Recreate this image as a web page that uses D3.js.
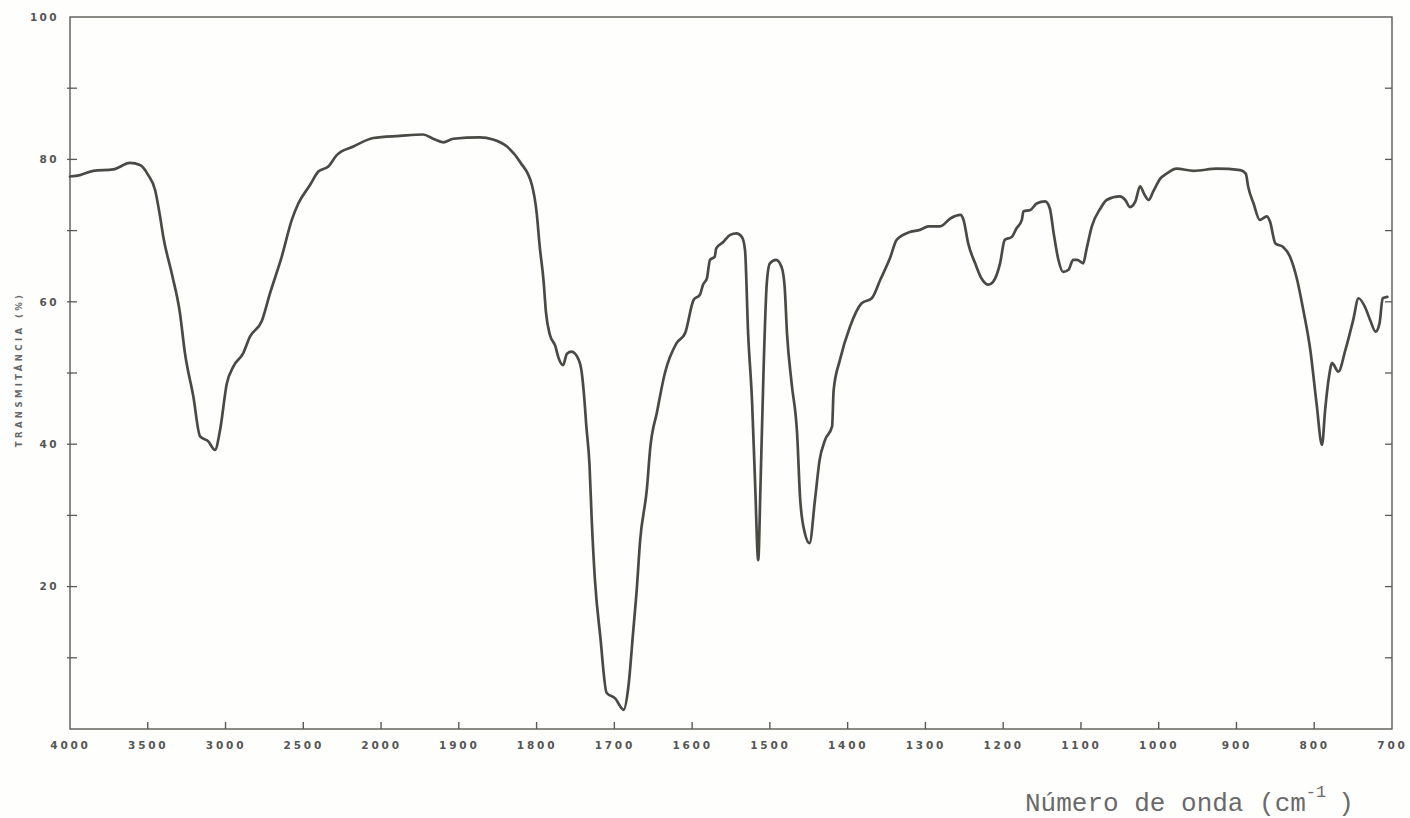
<!DOCTYPE html>
<html>
<head>
<meta charset="utf-8">
<script src="https://cdn.jsdelivr.net/npm/d3@7"></script>
<style>
  html, body { margin: 0; padding: 0; background: #fefefc; }
  svg { display: block; }
</style>
</head>
<body>
<div id="chart"></div>
<script>
// IR spectrum: wavenumber (cm-1) and transmittance (%)
var wavenumber = [4000,3936,3850,3722,3614,3550,3497,3453,3421,3400,3346,3293,3261,3207,3164,3111,3068,3035,2992,2950,
  2886,2843,2767,2714,2639,2574,2532,2457,2403,2339,2285,2178,2050,1976,1946,1933,1920,1907,1873,1856,
  1838,1821,1806,1800,1796,1791,1788,1783,1776,1772,1766,1761,1755,1746,1742,1739,1736,1732,1729,1725,
  1718,1710,1699,1688,1682,1676,1671,1667,1658,1654,1645,1635,1620,1609,1598,1590,1586,1581,1577,1571,
  1569,1560,1551,1543,1536,1532,1528,1523,1519,1515,1512,1508,1504,1500,1492,1485,1481,1478,1472,1465,
  1461,1455,1449,1442,1436,1429,1420,1418,1410,1397,1382,1369,1358,1345,1337,1320,1307,1296,1281,1268,
  1255,1251,1245,1236,1228,1219,1213,1204,1198,1189,1183,1176,1174,1165,1157,1146,1140,1135,1129,1123,
  1116,1110,1105,1097,1093,1086,1075,1067,1050,1043,1037,1030,1024,1018,1013,1007,998,990,977,955,
  925,895,888,885,878,870,861,857,850,840,831,822,814,805,797,790,786,781,777,769,
  760,750,743,734,728,721,716,712,706];
var transmittance = [77.6,77.8,78.4,78.6,79.5,79.2,77.8,75.7,72.0,69.1,64.0,58.4,52.8,46.7,41.1,40.4,39.2,42.0,48.5,50.9,
  52.8,55.1,57.3,61.2,66.3,71.5,73.8,76.4,78.3,79.0,80.6,81.8,83.0,83.3,83.5,82.9,82.4,82.9,83.1,82.8,
  81.8,79.6,76.4,72.6,67.8,62.9,58.6,55.4,53.8,52.2,51.1,52.7,53.0,51.9,50.1,46.9,42.5,37.2,29.1,21.0,
  12.9,5.1,4.3,2.7,5.9,13.4,19.9,26.3,33.9,39.3,44.6,50.0,54.2,55.6,60.3,61.0,62.4,63.3,65.9,66.3,
  67.5,68.4,69.4,69.6,69.1,67.3,55.6,46.2,34.5,23.7,34.5,50.9,62.6,65.4,65.9,64.9,62.1,55.6,48.5,41.5,
  32.2,27.5,26.1,32.2,37.8,40.6,42.5,47.6,51.8,56.5,59.8,60.5,63.1,66.3,68.7,69.8,70.1,70.6,70.6,71.7,
  72.2,71.5,68.2,65.4,63.3,62.4,62.8,65.4,68.7,69.1,70.3,71.5,72.7,72.9,73.8,74.1,73.1,69.6,65.9,64.2,
  64.5,65.9,65.9,65.4,67.3,70.6,73.1,74.3,74.8,74.3,73.3,74.1,76.2,75.0,74.3,75.5,77.3,78.0,78.7,78.4,
  78.7,78.5,78.0,76.2,73.8,71.5,72.0,71.3,68.2,67.7,66.3,63.1,58.8,53.2,45.7,39.9,44.8,49.5,51.4,50.2,
  53.2,57.4,60.5,59.1,57.4,55.8,57.0,60.5,60.7];

var xTicks = [4000,3500,3000,2500,2000,1900,1800,1700,1600,1500,1400,1300,1200,1100,1000,900,800,700];
var yLabels = [20,40,60,80,100];
var yTicks = [10,20,30,40,50,60,70,80,90];

var chartW = 1410, chartH = 818;
var plotL = 70, plotR = 1392, plotT = 17, plotB = 729;
var step = (plotR - plotL) / 17;

// the chart paper changes scale at 2000 cm-1
var x = d3.scaleLinear()
          .domain([4000, 2000, 700])
          .range([plotL, plotL + 4*step, plotR]);
var y = d3.scaleLinear().domain([0, 100]).range([plotB, plotT]);

var svg = d3.select("#chart").append("svg")
            .attr("width", chartW)
            .attr("height", chartH);

var ink = "#4a4a45";
var frame = "#5a5a55";

svg.append("rect")
   .attr("x", plotL).attr("y", plotT)
   .attr("width", plotR - plotL).attr("height", plotB - plotT)
   .attr("fill", "none")
   .attr("stroke", frame)
   .attr("stroke-width", 1.4);

// bottom axis, ticks pointing inward
var xAxis = svg.append("g")
               .attr("transform", `translate(0, ${plotB})`)
               .call(d3.axisBottom(x).tickValues(xTicks).tickSize(0).tickPadding(13).tickFormat(d3.format("d")));
xAxis.select(".domain").remove();
xAxis.selectAll("text")
     .style("font", "bold 10.5px 'DejaVu Sans'")
     .style("letter-spacing", "2.8px")
     .attr("fill", "#555");
svg.append("g").selectAll("line").data(xTicks.slice(1, -1))
   .enter().append("line")
   .attr("x1", d => x(d)).attr("x2", d => x(d))
   .attr("y1", plotB).attr("y2", plotB - 7)
   .attr("stroke", frame).attr("stroke-width", 1.4);

// left axis
var yAxis = svg.append("g")
               .attr("transform", `translate(${plotL}, 0)`)
               .call(d3.axisLeft(y).tickValues(yLabels).tickSize(0).tickPadding(11));
yAxis.select(".domain").remove();
yAxis.selectAll("text")
     .style("font", "bold 10.5px 'DejaVu Sans'")
     .style("letter-spacing", "2.4px")
     .attr("fill", "#555");

svg.append("g").selectAll("line").data(yTicks)
   .enter().append("line")
   .attr("x1", plotL - 3).attr("x2", plotL + 7)
   .attr("y1", d => y(d)).attr("y2", d => y(d))
   .attr("stroke", frame).attr("stroke-width", 1.3);

// right axis, unlabeled ticks
svg.append("g").selectAll("line").data(yTicks)
   .enter().append("line")
   .attr("x1", plotR - 7).attr("x2", plotR)
   .attr("y1", d => y(d)).attr("y2", d => y(d))
   .attr("stroke", frame).attr("stroke-width", 1.3);

svg.append("text")
   .attr("transform", `translate(22, ${y(50.5)}) rotate(-90)`)
   .attr("text-anchor", "middle")
   .style("font", "bold 8.5px 'DejaVu Sans'")
   .style("letter-spacing", "3.4px")
   .attr("fill", "#666")
   .text("TRANSMITÂNCIA (%)");

var label = svg.append("text")
               .attr("x", 1025).attr("y", 811)
               .style("font", "26px 'Liberation Mono'")
               .attr("fill", "#6a6a6a");
label.append("tspan").text("Número de onda (cm");
label.append("tspan").attr("dy", -14).style("font-size", "17px").text("-1");
label.append("tspan").attr("dy", 14).attr("dx", 12).text(")");

var spectrum = wavenumber.map((d, i) => ({wn: d, t: transmittance[i]}));

svg.append("path")
   .datum(spectrum)
   .attr("fill", "none")
   .attr("stroke", ink)
   .attr("stroke-width", 2.7)
   .attr("stroke-linejoin", "round")
   .attr("stroke-linecap", "round")
   .attr("d", d3.line().x(d => x(d.wn)).y(d => y(d.t)).curve(d3.curveMonotoneX));
</script>
</body>
</html>
